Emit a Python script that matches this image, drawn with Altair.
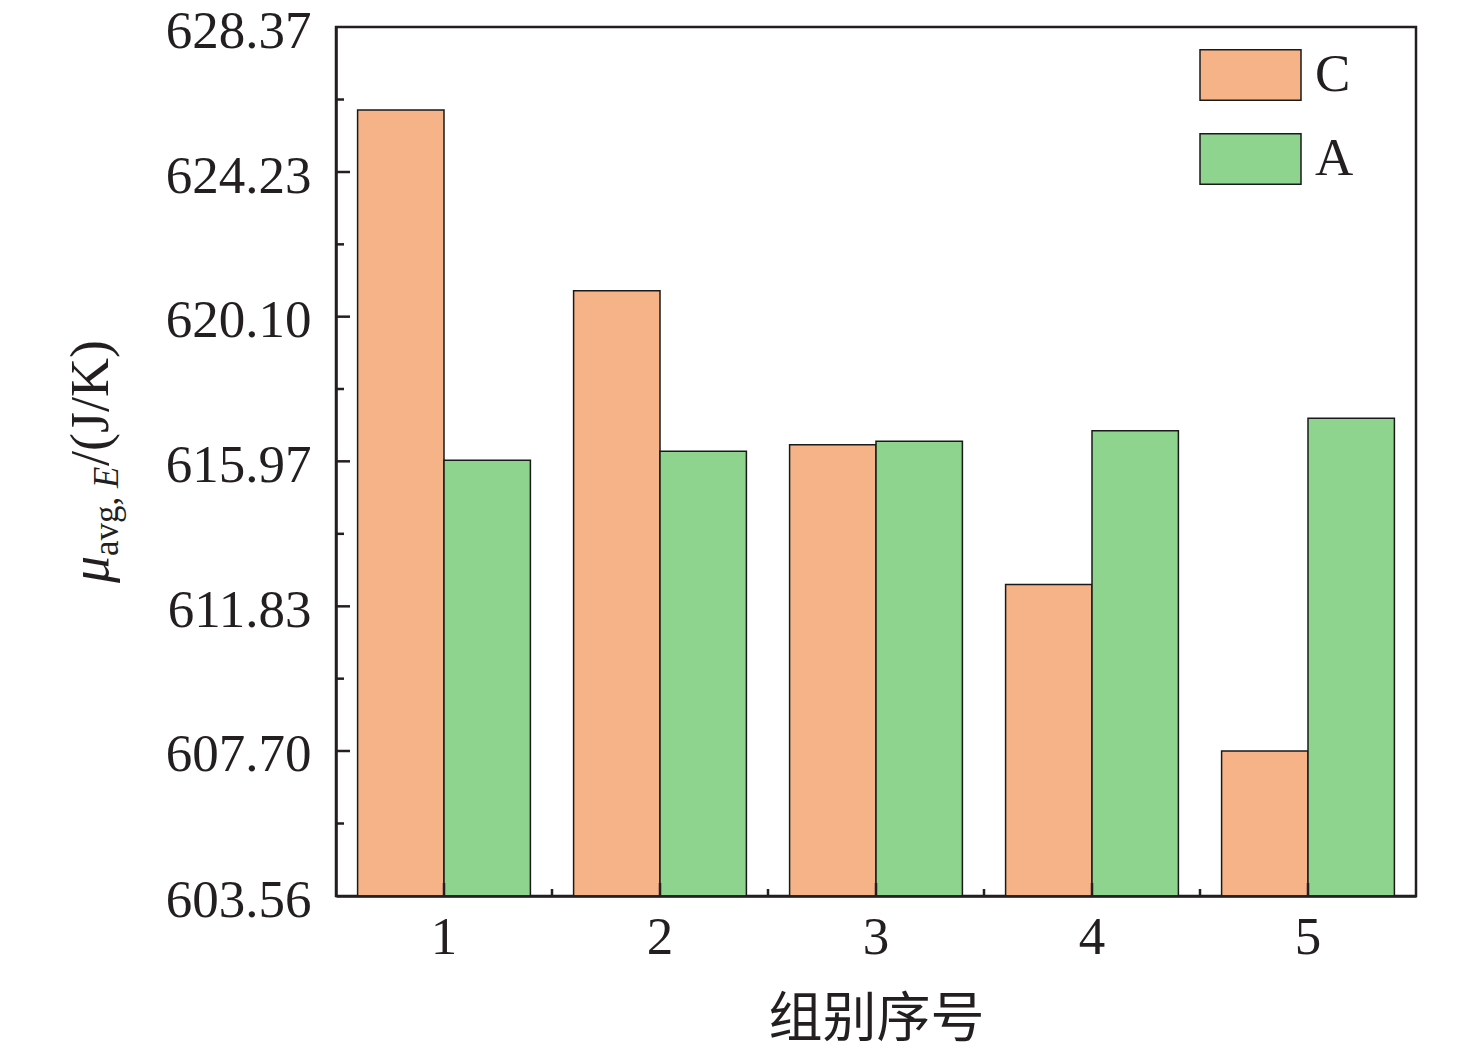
import altair as alt
import pandas as pd

# ---- data ----
groups = ["1", "2", "3", "4", "5"]
series = ["C", "A"]
values_C = [626.00, 620.84, 616.44, 612.45, 607.70]
values_A = [616.00, 616.26, 616.54, 616.84, 617.20]
y_ticks = [603.56, 607.70, 611.83, 615.97, 620.10, 624.23, 628.37]
colors = ["#F6B387", "#8ED48F"]

dark = "#231f20"
W, H = 1080, 869

rows = []
for i, g in enumerate(groups):
    rows.append({"group": g, "series": "C", "value": values_C[i]})
    rows.append({"group": g, "series": "A", "value": values_A[i]})
df = pd.DataFrame(rows)

yscale = alt.Scale(domain=[y_ticks[0], y_ticks[-1]], nice=False, zero=False)

bars = alt.Chart(df).mark_bar(stroke="#1a1a1a", strokeWidth=1.5, opacity=1).encode(
    x=alt.X(
        "group:N", sort=groups,
        scale=alt.Scale(paddingInner=0.2, paddingOuter=0.1),
        axis=alt.Axis(
            title="组别序号", labelAngle=0, ticks=False, labelPadding=15,
            labelFont="Liberation Serif", labelFontSize=53, labelColor=dark,
            titleFont="Noto Sans CJK SC", titleFontSize=54, titleFontWeight="normal",
            titleColor=dark, titleBaseline="middle", titleY=124,
            domainColor=dark, domainWidth=2.5, zindex=1, grid=False,
        ),
    ),
    xOffset=alt.XOffset("series:N", sort=series,
                        scale=alt.Scale(domain=series, paddingInner=0, paddingOuter=0)),
    y=alt.Y(
        "value:Q", scale=yscale,
        axis=alt.Axis(
            values=y_ticks, format=".2f", title=None, ticks=False, labelPadding=25,
            labelOffset=4,
            labelFont="Liberation Serif", labelFontSize=53, labelColor=dark,
            domainColor=dark, domainWidth=2.5, zindex=1, grid=False,
        ),
    ),
    y2=alt.datum(y_ticks[0]),
    color=alt.Color(
        "series:N", sort=series,
        scale=alt.Scale(domain=series, range=colors),
        legend=alt.Legend(
            title=None, orient="none", legendX=863, legendY=22,
            symbolType="M-1,-0.5H1V0.5H-1Z", symbolSize=10201,
            symbolStrokeColor="#1a1a1a", symbolStrokeWidth=1.5, symbolOpacity=1,
            labelFont="Liberation Serif", labelFontSize=53, labelColor=dark,
            labelOffset=13, clipHeight=52, rowPadding=31, padding=0, labelLimit=0,
        ),
    ),
)

# ---- inward ticks (axis decoration) ----
ymaj = pd.DataFrame({"v": y_ticks[1:-1]})
ymin_ = pd.DataFrame({"v": [(a + b) / 2 for a, b in zip(y_ticks[:-1], y_ticks[1:])]})
gnum = [float(g) for g in groups]
xmaj = pd.DataFrame({"g": gnum})
xmin_ = pd.DataFrame({"g": [(a + b) / 2 for a, b in zip(gnum[:-1], gnum[1:])]})
xlin = alt.Scale(domain=[gnum[0] - 0.5, gnum[-1] + 0.5], nice=False, zero=False)

ytick_major = alt.Chart(ymaj).mark_rule(color=dark, strokeWidth=2.5).encode(
    y=alt.Y("v:Q", scale=yscale, axis=None), x=alt.value(0), x2=alt.value(14))
ytick_minor = alt.Chart(ymin_).mark_rule(color=dark, strokeWidth=2.5).encode(
    y=alt.Y("v:Q", scale=yscale, axis=None), x=alt.value(0), x2=alt.value(8))
xtick_major = alt.Chart(xmaj).mark_rule(color=dark, strokeWidth=2.5).encode(
    x=alt.X("g:Q", scale=xlin, axis=None), y=alt.value(H), y2=alt.value(H - 13))
xtick_minor = alt.Chart(xmin_).mark_rule(color=dark, strokeWidth=2.5).encode(
    x=alt.X("g:Q", scale=xlin, axis=None), y=alt.value(H), y2=alt.value(H - 7))

# ---- y title with subscript: μ_{avg, E}/(J/K) ----
def piece(txt, size, italic, x, y):
    kw = dict(font="Liberation Serif", fontSize=size, angle=270, align="left",
              baseline="alphabetic", color=dark)
    if italic:
        kw["fontStyle"] = "italic"
    return alt.Chart(pd.DataFrame({"t": [txt]})).mark_text(**kw).encode(
        text="t:N", x=alt.value(x), y=alt.value(y))

main_x, sub_x = -228, -218
t1 = piece("μ", 54, True, main_x, 556)
t2 = piece("avg, ", 35, False, sub_x, 529)
t3 = piece("E", 35, True, sub_x, 461)
t4 = piece("/(J/K)", 54, False, main_x, 439)

chart = alt.layer(
    bars, ytick_major, ytick_minor, xtick_major, xtick_minor, t1, t2, t3, t4
).resolve_scale(x="independent").resolve_axis(y="independent").properties(
    width=W, height=H,
    padding={"left": 328, "top": 19, "right": 50, "bottom": 155},
    autosize=alt.AutoSizeParams(type="none"),
    background="white",
).configure_view(stroke=dark, strokeWidth=2.5)

chart.save("out.html", embed_options={"renderer": "svg", "actions": False})
